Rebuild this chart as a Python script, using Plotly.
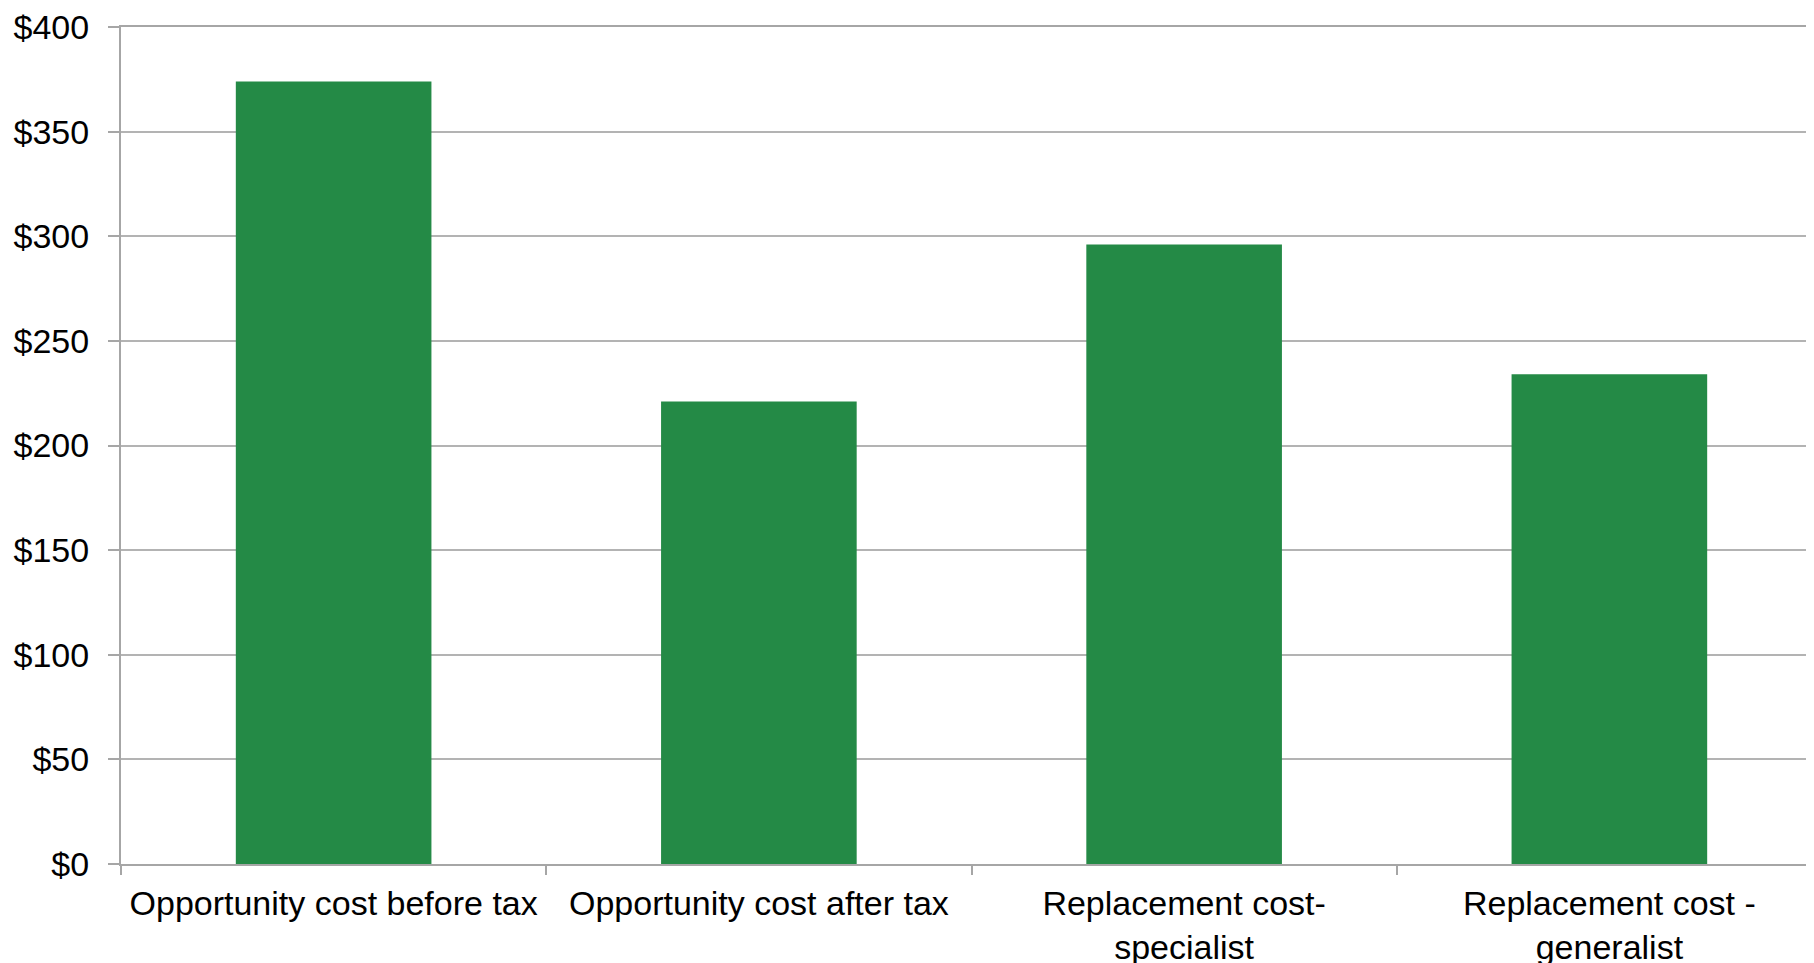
import plotly.graph_objects as go

categories = ["Opportunity cost before tax", "Opportunity cost after tax",
              "Replacement cost-<br>specialist", "Replacement cost -<br>generalist"]
values = [374, 221, 296, 234]
tick_vals = [0, 50, 100, 150, 200, 250, 300, 350, 400]
tick_text = ["$0", "$50", "$100", "$150", "$200", "$250", "$300", "$350", "$400"]

fig = go.Figure(go.Bar(x=categories, y=values, marker_color="#248A46",
                       marker_line_width=0))

fig.update_layout(
    width=1814, height=963,
    margin=dict(l=113, r=0, t=16, b=107),
    paper_bgcolor="white", plot_bgcolor="white",
    bargap=0.54, showlegend=False,
    font=dict(family="Liberation Sans, Arial", size=34, color="black"),
)
fig.update_xaxes(
    showline=True, linecolor="#a6a6a6", linewidth=2, mirror=True,
    ticks="outside", tickson="boundaries", ticklen=9, tickcolor="#a6a6a6", tickwidth=2,
    tickfont=dict(size=34), showgrid=False, ticklabelstandoff=8,
)
fig.update_yaxes(
    range=[0, 400], tickvals=tick_vals, ticktext=tick_text,
    showline=True, linecolor="#a6a6a6", linewidth=2,
    ticks="outside", ticklen=11, tickcolor="#a6a6a6", tickwidth=2,
    showgrid=True, gridcolor="#b3b3b3", gridwidth=2,
    tickfont=dict(size=34), zeroline=False, ticklabelstandoff=12,
    ticklabeloverflow="allow",
)
fig.write_html("out.html")
